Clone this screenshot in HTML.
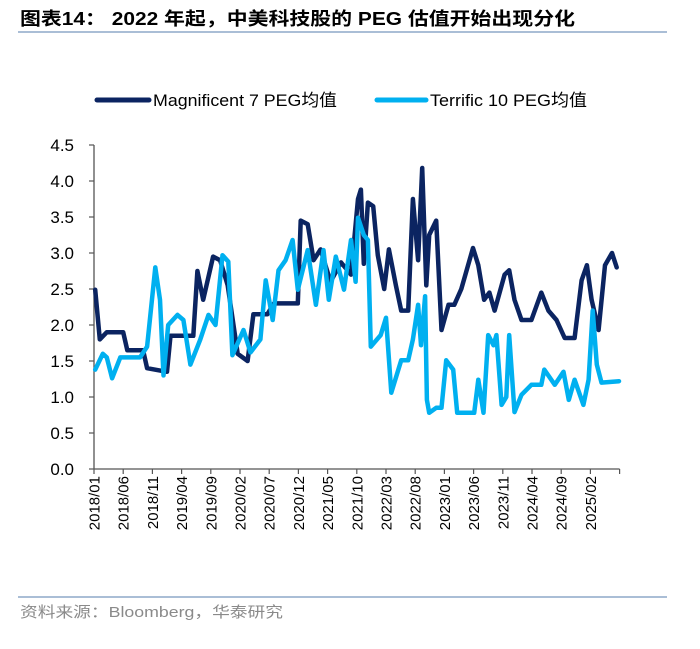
<!DOCTYPE html>
<html><head><meta charset="utf-8">
<style>
html,body{margin:0;padding:0;background:#fff;}
body{width:700px;height:649px;overflow:hidden;position:relative;font-family:"Liberation Sans","Noto Sans CJK SC",sans-serif;}
</style></head>
<body>
<svg id="chart" width="700" height="649" xmlns="http://www.w3.org/2000/svg" style="position:absolute;left:0;top:0">
  <text x="20" y="25" font-size="18" font-weight="bold" fill="#000" textLength="555" lengthAdjust="spacingAndGlyphs" font-family="Liberation Sans, Noto Sans CJK SC, sans-serif">图表14：  2022 年起，中美科技股的 PEG 估值开始出现分化</text>
  <line x1="18" y1="32" x2="667" y2="32" stroke="#8ea9c9" stroke-width="1.5"/>
  <g>
    <line x1="97" y1="100" x2="149" y2="100" stroke="#0b2461" stroke-width="5" stroke-linecap="round"/>
    <text x="153" y="106" font-size="17" fill="#000" textLength="184" lengthAdjust="spacingAndGlyphs">Magnificent 7 PEG均值</text>
    <line x1="377" y1="100" x2="426" y2="100" stroke="#00b0f0" stroke-width="5" stroke-linecap="round"/>
    <text x="430" y="106" font-size="17" fill="#000" textLength="157" lengthAdjust="spacingAndGlyphs">Terrific 10 PEG均值</text>
  </g>
  <g id="axes"></g>
  <g id="series"></g>
  <line x1="18" y1="597" x2="667" y2="597" stroke="#8ea9c9" stroke-width="1.5"/>
  <text x="20" y="617" font-size="15" fill="#8a8a8a" textLength="263" lengthAdjust="spacingAndGlyphs">资料来源：Bloomberg，华泰研究</text>
</svg>
<script>
const tickLabels=["2018/01","2018/06","2018/11","2019/04","2019/09","2020/02","2020/07","2020/12","2021/05","2021/10","2022/03","2022/08","2023/01","2023/06","2023/11","2024/04","2024/09","2025/02"];
const yTicks=[0,0.5,1,1.5,2,2.5,3,3.5,4,4.5];
const mag7Months=[0.2,1.0,2.2,5.0,5.7,8.4,9.1,12.5,13.1,17.0,17.7,18.7,20.4,21.6,22.9,24.6,26.3,27.3,29.7,30.8,34.9,35.4,36.6,37.6,38.8,40.5,42.3,44.0,45.2,45.7,46.2,46.9,47.8,48.6,49.7,50.5,51.7,52.6,53.8,54.6,55.5,56.2,56.9,57.4,58.6,59.5,60.7,61.7,62.9,64.9,65.8,66.8,67.7,68.6,70.3,71.1,72.0,73.2,74.9,76.6,77.8,79.2,80.6,82.3,83.5,84.4,85.2,86.4,87.5,88.7,89.5];
const mag7Values=[2.49,1.8,1.9,1.9,1.65,1.65,1.4,1.35,1.85,1.85,2.75,2.35,2.95,2.9,2.55,1.6,1.5,2.15,2.15,2.3,2.3,3.45,3.4,2.9,3.05,2.6,2.87,2.7,3.75,3.88,2.85,3.7,3.65,2.97,2.5,3.05,2.55,2.2,2.2,3.75,2.9,4.18,2.55,3.25,3.45,1.93,2.28,2.28,2.5,3.07,2.83,2.35,2.45,2.2,2.7,2.76,2.35,2.07,2.07,2.45,2.2,2.07,1.82,1.82,2.62,2.83,2.35,1.93,2.83,3.0,2.8];
const t10Months=[0.2,1.5,2.2,3.1,4.5,7.9,9.1,10.5,11.3,11.9,12.7,14.3,15.3,16.5,18.2,19.6,20.8,22.0,23.0,23.7,25.6,26.8,28.5,29.4,30.6,31.6,32.8,34.0,34.9,36.6,38.0,39.3,40.2,41.4,42.8,44.0,44.8,45.2,46.2,46.9,47.4,49.1,50.0,50.9,52.6,53.8,54.6,55.5,56.0,56.7,57.0,57.4,58.6,59.5,60.3,61.5,62.2,65.1,65.8,66.7,67.5,68.4,68.9,69.8,70.6,71.1,72.0,73.2,74.9,76.6,77.1,78.9,80.4,81.3,82.3,83.8,84.7,85.4,86.1,86.9,89.9];
const t10Values=[1.38,1.6,1.55,1.26,1.55,1.55,1.7,2.8,2.35,1.3,2.0,2.14,2.07,1.45,1.8,2.14,2.0,2.97,2.88,1.58,1.93,1.62,1.8,2.62,2.07,2.76,2.9,3.18,2.49,3.04,2.28,3.04,2.35,2.95,2.49,3.18,2.6,3.49,3.25,3.18,1.7,1.86,2.1,1.06,1.51,1.51,1.8,2.28,1.72,2.4,0.96,0.78,0.85,0.85,1.51,1.38,0.78,0.78,1.24,0.78,1.86,1.72,1.86,0.89,1.0,1.86,0.79,1.03,1.17,1.17,1.38,1.17,1.35,0.96,1.24,0.89,1.24,2.2,1.45,1.2,1.22];

const X0=94, PX_PER_MONTH=5.84, Y0=469, PX_PER_UNIT=72;
function xScale(m){return X0+m*PX_PER_MONTH;}
function yScale(v){return Y0-v*PX_PER_UNIT;}
const NS="http://www.w3.org/2000/svg";
const axes=document.getElementById('axes');
const series=document.getElementById('series');
function mk(tag,attrs,parent){const e=document.createElementNS(NS,tag);for(const k in attrs)e.setAttribute(k,attrs[k]);parent.appendChild(e);return e;}

const yAxis=mk('line',{x1:X0,y1:yScale(4.5),x2:X0,y2:Y0,stroke:'#555','stroke-width':1.3},axes);


const xAxis=mk('line',{x1:X0,y1:Y0,x2:xScale(90),y2:Y0,stroke:'#555','stroke-width':1.3},axes);



yTicks.forEach(v=>{
  const t=mk('line',{x1:X0-5,y1:yScale(v),x2:X0,y2:yScale(v),stroke:'#555','stroke-width':1.2},axes);
  
  
  const l=mk('text',{x:X0-20,y:yScale(v)+6,'font-size':17,'text-anchor':'end',fill:'#000'},axes);
  l.textContent=v.toFixed(1);
  
  
});
for(let i=0;i<=tickLabels.length;i++){
  const x=xScale(i*5);
  const t=mk('line',{x1:x,y1:Y0,x2:x,y2:Y0+5,stroke:'#555','stroke-width':1.2},axes);
  
  
  if(i<tickLabels.length){
    const l=mk('text',{x:0,y:0,'font-size':15,'text-anchor':'end',fill:'#000',transform:`translate(${x+5.5},${Y0+7}) rotate(-90)`},axes);
    l.textContent=tickLabels[i];
    
    
  }
}
function drawLine(ms,vs,color,name){
  const d=ms.map((m,i)=>(i?'L':'M')+xScale(m).toFixed(1)+','+yScale(vs[i]).toFixed(1)).join(' ');
  const p=mk('path',{d:d,fill:'none',stroke:color,'stroke-width':4.5,'stroke-linejoin':'round','stroke-linecap':'round'},series);
  
  
}
drawLine(mag7Months,mag7Values,'#0b2461','mag7-peg-line');
drawLine(t10Months,t10Values,'#00b0f0','terrific10-peg-line');
</script>
</body></html>
